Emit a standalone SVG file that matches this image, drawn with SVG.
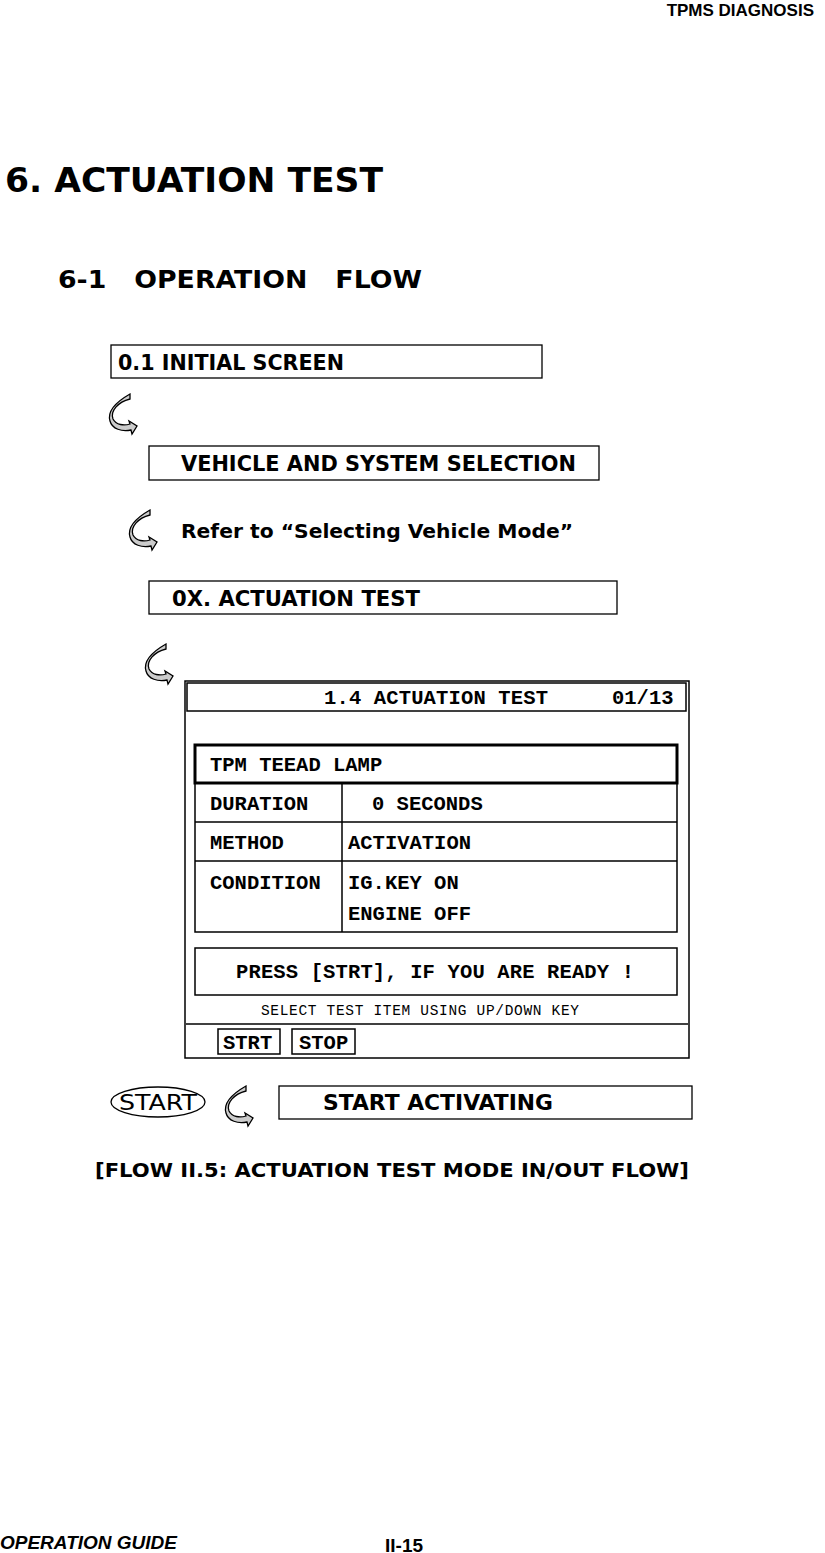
<svg xmlns="http://www.w3.org/2000/svg" width="825" height="1553" viewBox="0 0 825 1553">
<style>
.t{font-family:"DejaVu Sans",sans-serif;fill:#000}
.b{fill:#fff;stroke:#000;stroke-width:1.3}
.m{font-family:"Liberation Mono",monospace;font-weight:bold;font-size:20.5px;fill:#000}
.s{fill:none;stroke:#000;stroke-width:1.5}
</style>
<defs>
<g id="arr">
<path d="M20,0 C8,3 0,12 3,20 C6,26 14,27 20,25 L19,22 L27,27 L22,35 L21,31 C12,33 2,30 0,22 C-3,12 6,3 20,-5 Z" fill="#ccc" stroke="#000" stroke-width="1.3" transform="translate(0,5)"/>
</g>
</defs>
<text x="814" y="16" text-anchor="end" font-family="Liberation Sans,sans-serif" font-weight="bold" font-size="17">TPMS DIAGNOSIS</text>
<text class="t" x="5" y="192" font-size="34" font-weight="bold" textLength="378" lengthAdjust="spacingAndGlyphs">6. ACTUATION TEST</text>
<text class="t" x="58" y="288" font-size="25" font-weight="bold" textLength="364" lengthAdjust="spacingAndGlyphs" xml:space="preserve">6-1   OPERATION   FLOW</text>
<g id="n1"><rect class="b" x="111" y="345" width="431" height="33"/><text class="t" x="118" y="370" font-size="21" font-weight="bold" textLength="226" lengthAdjust="spacingAndGlyphs">0.1 INITIAL SCREEN</text></g>
<g id="n2"><rect class="b" x="149" y="446" width="450" height="34"/><text class="t" x="181" y="471" font-size="21" font-weight="bold" textLength="395" lengthAdjust="spacingAndGlyphs">VEHICLE AND SYSTEM SELECTION</text></g>
<text class="t" x="181" y="538" font-size="20" font-weight="bold" textLength="392" lengthAdjust="spacingAndGlyphs">Refer to “Selecting Vehicle Mode”</text>
<g id="n3"><rect class="b" x="149" y="581" width="468" height="33"/><text class="t" x="172" y="606" font-size="21" font-weight="bold" textLength="248" lengthAdjust="spacingAndGlyphs">0X. ACTUATION TEST</text></g>
<g id="connectors">
<use href="#arr" x="110" y="394"/>
<use href="#arr" x="130" y="510"/>
<use href="#arr" x="146" y="644"/>
<use href="#arr" x="226" y="1086"/>
</g>
<g id="screen">
<rect x="185" y="681" width="504" height="377" fill="#fff" stroke="#000" stroke-width="1.5"/>
<rect class="s" x="187" y="683" width="499" height="28"/>
<text class="m" x="324" y="704" textLength="224">1.4 ACTUATION TEST</text>
<text class="m" x="612" y="704">01/13</text>
<rect x="195" y="745" width="482" height="38" fill="none" stroke="#000" stroke-width="3"/>
<text class="m" x="210" y="771">TPM TEEAD LAMP</text>
<path class="s" d="M195,783 V932 H677 V783 M195,822 H677 M195,861 H677 M342,783 V932"/>
<text class="m" x="210" y="810">DURATION</text><text class="m" x="372" y="810">0 SECONDS</text>
<text class="m" x="210" y="849">METHOD</text><text class="m" x="348" y="849">ACTIVATION</text>
<text class="m" x="210" y="889">CONDITION</text><text class="m" x="348" y="889">IG.KEY ON</text>
<text class="m" x="348" y="920">ENGINE OFF</text>
<rect class="s" x="195" y="948" width="482" height="47"/>
<text class="m" x="236" y="978" textLength="398">PRESS [STRT], IF YOU ARE READY !</text>
<text x="261" y="1015" font-family="Liberation Mono,monospace" font-size="14.5" fill="#000" textLength="318">SELECT TEST ITEM USING UP/DOWN KEY</text>
<path class="s" d="M186,1024 H688"/>
<rect class="s" x="218" y="1029" width="62" height="25"/><text class="m" x="223" y="1049">STRT</text>
<rect class="s" x="292" y="1029" width="63" height="25"/><text class="m" x="299" y="1049">STOP</text>
</g>
<g id="start"><ellipse cx="158" cy="1102" rx="47" ry="15" fill="#fff" stroke="#000" stroke-width="1.3"/><text class="t" x="119" y="1110" font-size="21" textLength="78" lengthAdjust="spacingAndGlyphs">START</text></g>
<g id="n4"><rect class="b" x="279" y="1086" width="413" height="33"/><text class="t" x="323" y="1110" font-size="21" font-weight="bold" textLength="230" lengthAdjust="spacingAndGlyphs">START ACTIVATING</text></g>
<text class="t" x="95" y="1177" font-size="20" font-weight="bold" textLength="594" lengthAdjust="spacingAndGlyphs">[FLOW II.5: ACTUATION TEST MODE IN/OUT FLOW]</text>
<text x="0" y="1549" font-family="Liberation Sans,sans-serif" font-weight="bold" font-style="italic" font-size="19">OPERATION GUIDE</text>
<text x="385" y="1552" font-family="Liberation Sans,sans-serif" font-weight="bold" font-size="19">II-15</text>
</svg>
